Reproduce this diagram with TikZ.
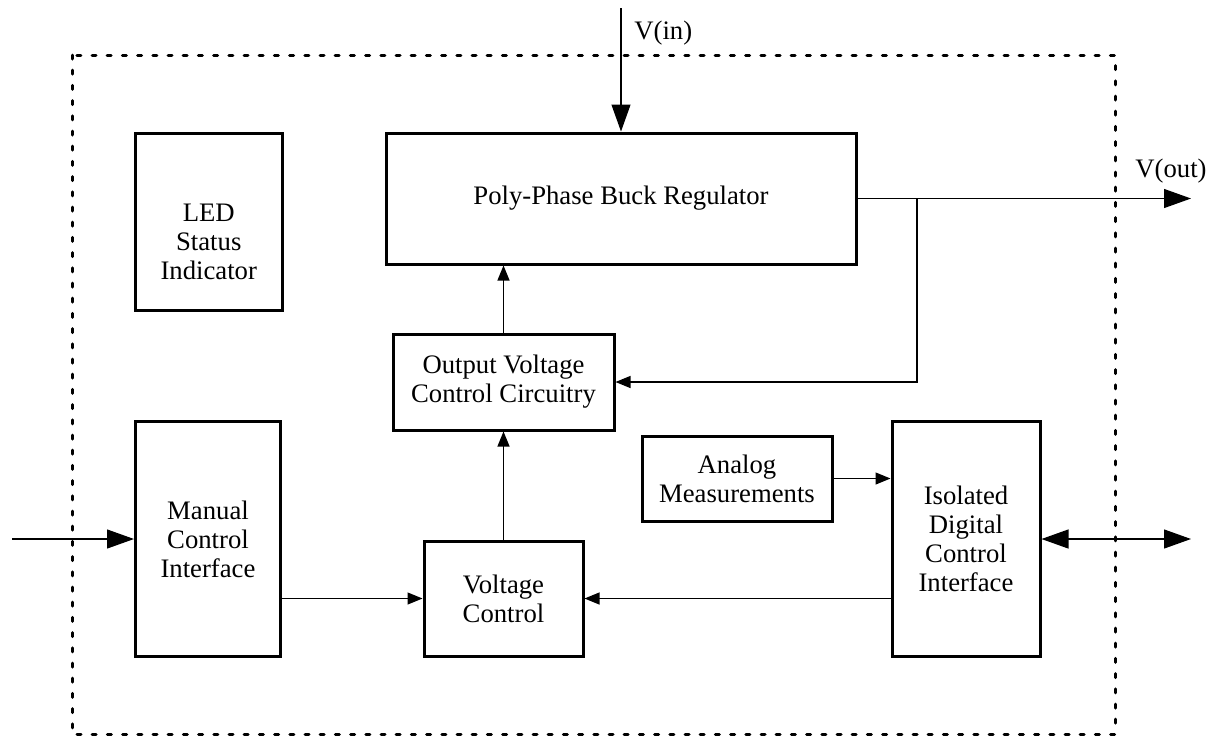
\documentclass[tikz,border=0pt]{standalone}
\usepackage{fontspec}
\setmainfont{Liberation Serif}
\usetikzlibrary{arrows.meta}
\begin{document}
\begin{tikzpicture}[x=0.5pt,y=-0.5pt,
 box/.style={draw, line width=1.5pt, rectangle, align=center, inner sep=0pt, font=\fontsize{13.35pt}{14.5pt}\selectfont},
 txt/.style={align=center, inner sep=0pt, font=\fontsize{13.35pt}{14.5pt}\selectfont},
 conn/.style={line width=0.6pt},
 big/.style={-{Triangle[length=13.5pt,width=9.5pt]}},
 small/.style={-{Triangle[length=7.5pt,width=6pt]}},
 bidir/.style={{Triangle[length=13.5pt,width=9.5pt]}-{Triangle[length=13.5pt,width=9.5pt]}},
 frame/.style={line width=1.5pt, dash pattern=on 2pt off 5.6pt, line cap=round}]
\useasboundingbox (0,0) rectangle (1216,735);
\draw[frame] (72,55) rectangle (1115,734);

\node[box, minimum width=73.25pt, minimum height=88.75pt] (led) at (208.75,222) {};
\node[txt] (ledt) at (208.75,242) {LED\\Status\\Indicator};
\node[box, minimum width=235pt, minimum height=65.5pt] (poly) at (621,198.5) {Poly-Phase Buck Regulator};
\node[box, minimum width=110.5pt, minimum height=48pt] (ovc) at (503.5,382) {Output Voltage\\Control Circuitry};
\node[box, minimum width=72.5pt, minimum height=117.75pt] (man) at (208,539) {Manual\\Control\\Interface};
\node[box, minimum width=79.5pt, minimum height=57.5pt] (vc) at (503.5,598.5) {Voltage\\Control};
\node[box, minimum width=95pt, minimum height=42.5pt] (ana) at (737,478.5) {Analog\\Measurements};
\node[box, minimum width=74pt, minimum height=117.75pt] (iso) at (966,539) {Isolated\\Digital\\Control\\Interface};

\coordinate (vinS) at (621,8);
\coordinate (voutE) at (1191,199);
\coordinate (br) at (917,198.5);
\coordinate (brd) at (917,382);
\coordinate (inS) at (12,539);
\coordinate (bdE) at (1191,539);

\draw[conn,big] (vinS) -- (poly.north);
\draw[conn,big] (poly.east) -- (poly.east -| voutE);
\draw[conn,small] (br) -- (brd) -- (ovc.east);
\draw[conn,small] (ovc.north) -- (ovc.north |- poly.south);
\draw[conn,small] (vc.north) -- (ovc.south);
\draw[conn,big] (inS) -- (man.west);
\draw[conn,small] (man.east |- vc.west) -- (vc.west);
\draw[conn,small] (iso.west |- vc.east) -- (vc.east);
\draw[conn,small] (ana.east) -- (ana.east -| iso.west);
\draw[conn,bidir] (iso.east) -- (bdE);

\node[txt, anchor=west] (vin) at (634,33) {V(in)};
\node[txt] (vout) at (1171,171) {V(out)};
\end{tikzpicture}
\end{document}
